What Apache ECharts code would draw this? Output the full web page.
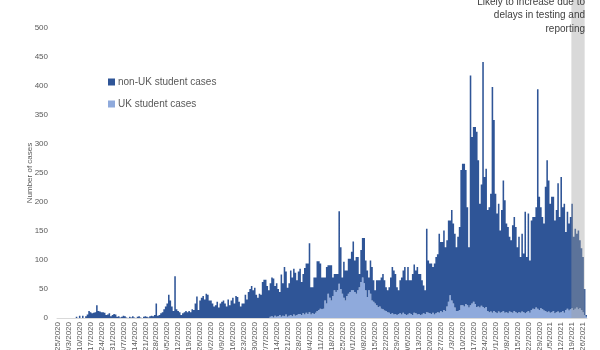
<!DOCTYPE html>
<html>
<head>
<meta charset="utf-8">
<script src="https://cdn.jsdelivr.net/npm/echarts@6/dist/echarts.min.js"></script>
<style>
html,body{margin:0;padding:0;background:#fff;}
#chart{width:600px;height:350px;}
</style>
</head>
<body>
<div id="chart"></div>
<script>
// Daily categories: 25 Feb 2020 to 28 Jan 2021 (axis labels every 7th day, m/d/yyyy)
const startDate = [2020, 1, 25];
const dayCount = 339;
const categories = [];
for (let i = 0; i < dayCount; i++) {
  const d = new Date(startDate[0], startDate[1], startDate[2] + i);
  categories.push((d.getMonth() + 1) + '/' + d.getDate() + '/' + d.getFullYear());
}

const seriesNames = ['non-UK student cases', 'UK student cases'];

const nonUkCases = [
  0,0,0,0,0,0,0,
  0,0,0,0,0,2,0,
  4,0,4,0,3,6,12,
  10,8,9,10,22,12,11,
  10,10,9,5,6,8,3,
  5,7,6,2,3,1,2,
  4,3,1,0,2,1,3,
  1,0,2,3,1,0,2,
  3,2,1,3,4,3,5,
  25,4,5,8,10,15,20,
  25,40,30,20,12,72,15,
  12,10,5,8,10,12,10,
  12,10,15,14,25,37,14,
  30,35,38,32,42,40,30,
  30,25,20,22,28,18,25,
  28,30,25,20,32,22,30,
  35,25,38,36,28,20,25,
  25,40,32,45,50,55,48,
  52,40,35,42,40,62,66,
  66,55,48,58,67,67,51,
  58,47,40,73,56,85,74,
  50,56,77,67,79,74,60,
  73,78,57,68,80,85,87,
  119,47,45,63,61,86,84,
  78,55,54,40,63,49,56,
  61,32,28,31,28,125,72,
  28,62,52,44,60,57,66,
  84,54,63,57,23,55,68,
  78,51,46,22,57,58,37,
  23,43,46,45,54,61,52,
  41,38,44,63,80,76,69,
  48,41,57,64,73,81,60,
  82,57,58,71,83,74,82,
  69,71,59,48,41,144,90,
  86,87,79,88,97,100,136,
  119,121,137,110,114,140,129,
  156,138,127,110,128,143,233,
  244,246,231,169,104,396,287,
  301,305,302,252,179,209,422,
  226,238,174,181,203,389,329,
  204,172,186,142,176,225,194,
  153,149,129,124,151,162,147,
  114,130,96,134,101,175,95,
  168,90,154,158,159,173,378,
  195,174,159,150,214,262,226,
  188,199,197,160,176,221,165,
  233,179,188,134,167,150,159,
  180,126,138,127,136,117,106,
  95,45,3
];

const ukCases = [
  0,0,0,0,0,0,0,
  0,0,0,0,0,0,0,
  0,0,0,0,0,0,0,
  0,0,0,0,0,0,0,
  0,0,0,0,0,0,0,
  0,0,0,0,0,0,0,
  0,0,0,0,0,0,0,
  0,0,0,0,0,0,0,
  0,0,0,0,0,0,0,
  0,0,0,0,0,0,0,
  0,0,0,0,0,0,0,
  0,0,0,0,0,0,0,
  0,0,0,0,0,0,0,
  0,0,0,0,0,0,0,
  0,0,0,0,0,0,0,
  0,0,0,0,0,0,0,
  0,0,0,0,0,0,0,
  0,0,0,0,0,0,0,
  0,0,0,0,0,0,0,
  0,0,0,2,3,1,4,
  2,3,5,2,4,3,6,
  2,4,5,3,6,4,5,
  7,7,5,8,6,9,7,
  10,6,8,7,9,12,14,
  16,15,16,30,25,42,35,
  30,38,48,45,48,59,50,
  42,35,30,38,42,45,48,
  48,45,42,48,53,62,70,
  60,48,36,48,42,30,28,
  25,22,19,20,16,15,13,
  12,10,9,7,8,6,7,
  5,7,8,6,9,7,5,
  6,8,7,5,9,8,6,
  7,5,6,8,7,10,9,
  8,7,9,6,8,10,9,
  12,10,14,12,20,28,39,
  30,25,18,12,12,14,22,
  22,20,24,22,18,22,25,
  28,24,19,20,18,21,19,
  17,19,12,10,11,9,12,
  10,8,11,9,10,12,9,
  10,8,11,10,9,12,10,
  8,10,9,11,10,8,10,
  12,9,14,16,15,18,16,
  14,17,15,13,12,10,11,
  9,10,12,8,10,11,9,
  10,12,9,14,16,13,15,
  17,14,16,18,15,17,14,
  10,5,2
];

const delayStart = '1/19/2021';
const delayEnd = '1/28/2021';
const annotationText = 'Likely to increase due to\ndelays in testing and\nreporting';
const yAxisTitle = 'Number of cases';

const FONT = '"Liberation Sans", Arial, sans-serif';
const DARK = '#2F5597';
const LIGHT = '#8FAADC';
const chart = echarts.init(document.getElementById('chart'), null, {renderer: 'canvas'});
chart.setOption({
  animation: false,
  backgroundColor: '#ffffff',
  textStyle: {fontFamily: FONT},
  grid: {left: 57, right: 13, top: 0, bottom: 32, containLabel: false, outerBoundsMode: 'none'},
  legend: {
    orient: 'vertical',
    left: 103, top: 72,
    itemWidth: 7, itemHeight: 7, itemGap: 12,
    icon: 'rect',
    data: seriesNames,
    itemStyle: {borderWidth: 0},
    textStyle: {fontSize: 10, color: '#595959', fontFamily: FONT, padding: [0,0,0,-2]}
  },
  xAxis: {
    type: 'category',
    data: categories,
    boundaryGap: true,
    axisLine: {show: true, lineStyle: {color: '#D9D9D9', width: 1}},
    axisTick: {show: false},
    axisLabel: {interval: 6, rotate: 90, fontSize: 8, color: '#595959', margin: 4, fontFamily: FONT},
    splitLine: {show: false}
  },
  yAxis: {
    type: 'value',
    min: 0, max: 548, interval: 50,
    axisLine: {show: false},
    axisTick: {show: false},
    splitLine: {show: false},
    axisLabel: {fontSize: 8, color: '#595959', margin: 9, showMaxLabel: false, fontFamily: FONT}
  },
  graphic: [
    {
      type: 'text', x: 30, y: 173, rotation: Math.PI / 2,
      style: {text: yAxisTitle, fill: '#595959', font: '8px ' + FONT, align: 'center', verticalAlign: 'middle'}
    },
    {
      type: 'text', x: 585, y: -5, z: 100,
      style: {text: annotationText, fill: '#404040', font: '10px ' + FONT, align: 'right', verticalAlign: 'top', lineHeight: 13.5}
    }
  ],
  series: [
    {
      name: seriesNames[1],
      type: 'bar',
      stack: 'cases',
      data: ukCases,
      large: true, largeThreshold: 100,
      barCategoryGap: '0%',
      itemStyle: {color: LIGHT}
    },
    {
      name: seriesNames[0],
      type: 'bar',
      stack: 'cases',
      data: nonUkCases,
      large: true, largeThreshold: 100,
      barCategoryGap: '0%',
      itemStyle: {color: DARK},
      markArea: {
        z: 10,
        silent: true,
        itemStyle: {color: 'rgba(160,160,160,0.4)', borderWidth: 0},
        data: [[{xAxis: delayStart}, {xAxis: delayEnd}]]
      }
    }
  ]
});
</script>
</body>
</html>
